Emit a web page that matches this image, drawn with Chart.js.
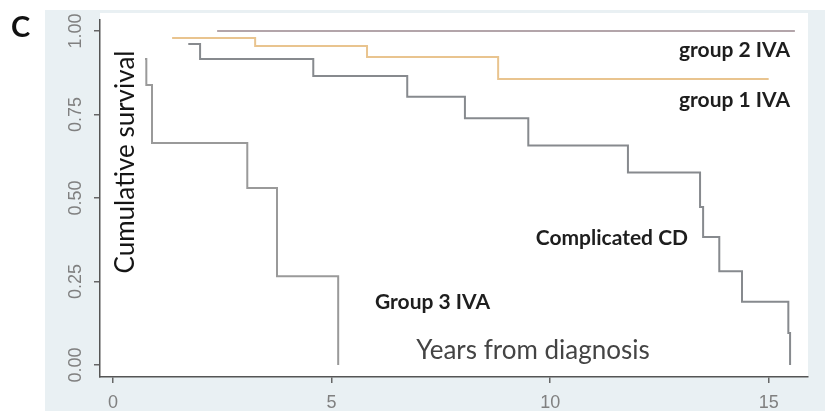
<!DOCTYPE html>
<html><head><meta charset="utf-8">
<script src="https://cdn.jsdelivr.net/npm/chart.js@4"></script>
<style>html,body{margin:0;padding:0;background:#fff;}canvas{display:block;}</style>
</head><body>
<canvas id="c" width="825" height="417"></canvas>
<script>
const xTicks = [0, 5, 10, 15];
const xTickLabels = ['0', '5', '10', '15'];
const yTicks = [0, 0.25, 0.5, 0.75, 1];
const yTickLabels = ['0.00', '0.25', '0.50', '0.75', '1.00'];

const g2Times = [2.38, 15.6];
const g2Surv  = [1.0, 1.0];
const g1Times = [1.35, 3.25, 5.81, 8.81, 15.0];
const g1Surv  = [0.979, 0.955, 0.922, 0.856, 0.856];
const cdTimes = [1.72, 1.99, 4.58, 6.73, 8.05, 9.50, 11.78, 13.43, 13.50, 13.87, 14.39, 15.45, 15.49];
const cdSurv  = [0.961, 0.916, 0.865, 0.803, 0.739, 0.657, 0.576, 0.473, 0.383, 0.281, 0.189, 0.096, 0.0];
const g3Times = [0.73, 0.76, 0.89, 3.07, 3.75, 5.15];
const g3Surv  = [0.916, 0.838, 0.665, 0.530, 0.266, 0.0];

const seriesNames = ['group 2 IVA', 'group 1 IVA', 'Complicated CD', 'Group 3 IVA'];

function pts(t, s) { return t.map((v, i) => ({x: v, y: s[i]})); }

const tickFont = '"Liberation Sans Narrow", "Liberation Sans", Arial, sans-serif';

const bgPlugin = {
  id: 'bg',
  beforeDraw(chart) {
    const ctx = chart.ctx, a = chart.chartArea;
    ctx.save();
    ctx.fillStyle = '#ffffff';
    ctx.fillRect(0, 0, chart.width, chart.height);
    ctx.fillStyle = '#e9f0f3';
    ctx.fillRect(45, 10, chart.width - 45, 401);
    ctx.fillStyle = '#ffffff';
    ctx.fillRect(a.left, 13, a.right - a.left, a.bottom - 13);
    ctx.restore();
  }
};

const textPlugin = {
  id: 'texts',
  afterDraw(chart) {
    const ctx = chart.ctx, ys = chart.scales.y;
    ctx.save();
    // y tick labels, rotated
    ctx.fillStyle = '#808080';
    ctx.font = '18px ' + tickFont;
    ctx.textAlign = 'center';
    ctx.textBaseline = 'middle';
    yTicks.forEach((v, i) => {
      ctx.save();
      ctx.translate(76, ys.getPixelForValue(v));
      ctx.rotate(-Math.PI / 2);
      ctx.fillText(yTickLabels[i], 0, 0);
      ctx.restore();
    });
    // panel letter
    ctx.fillStyle = '#111';
    ctx.font = 'bold 29px Lato, "Open Sans", sans-serif';
    ctx.textAlign = 'left';
    ctx.textBaseline = 'alphabetic';
    ctx.fillText('C', 11, 37);
    // y title
    ctx.save();
    ctx.translate(126, 162);
    ctx.rotate(-Math.PI / 2);
    ctx.font = '26px Lato, "Open Sans", sans-serif';
    ctx.textAlign = 'center';
    ctx.textBaseline = 'middle';
    ctx.fillStyle = '#151515';
    ctx.fillText('Cumulative survival', 0, 0);
    ctx.restore();
    // x title
    ctx.font = '26px Lato, "Open Sans", sans-serif';
    ctx.fillStyle = '#444';
    ctx.textAlign = 'center';
    ctx.textBaseline = 'middle';
    ctx.fillText('Years from diagnosis', 533, 351);
    // series labels
    ctx.font = 'bold 21px Lato, "Open Sans", sans-serif';
    ctx.fillStyle = '#1e1e1e';
    ctx.textAlign = 'right';
    ctx.fillText(seriesNames[0], 790, 50);
    ctx.fillText(seriesNames[1], 790, 100);
    ctx.fillText(seriesNames[2], 688, 238);
    ctx.fillText(seriesNames[3], 490, 302);
    ctx.restore();
  }
};

const common = { showLine: true, stepped: 'before', pointRadius: 0, borderWidth: 2, fill: false };

new Chart(document.getElementById('c'), {
  type: 'scatter',
  data: {
    datasets: [
      Object.assign({ label: seriesNames[0], data: pts(g2Times, g2Surv), borderColor: '#b3a5aa' }, common),
      Object.assign({ label: seriesNames[1], data: pts(g1Times, g1Surv), borderColor: '#e9c48f' }, common),
      Object.assign({ label: seriesNames[2], data: pts(cdTimes, cdSurv), borderColor: '#878a8e' }, common),
      Object.assign({ label: seriesNames[3], data: pts(g3Times, g3Surv), borderColor: '#9a9a9a' }, common)
    ]
  },
  options: {
    responsive: false,
    animation: false,
    devicePixelRatio: 1,
    layout: { padding: { left: 0, right: 17, top: 20, bottom: 0 } },
    plugins: { legend: { display: false }, tooltip: { enabled: false } },
    scales: {
      x: {
        type: 'linear', min: -0.3, max: 15.9,
        afterBuildTicks(s) { s.ticks = xTicks.map(v => ({ value: v })); },
        afterFit(s) { s.height = 40; },
        grid: { drawOnChartArea: false, drawTicks: true, tickLength: 6, color: '#666', lineWidth: 1.5 },
        border: { display: true, color: '#555', width: 1.5 },
        ticks: {
          padding: 9, color: '#808080', maxRotation: 0,
          font: { family: tickFont, size: 18 },
          callback(v) { const i = xTicks.indexOf(v); return i >= 0 ? xTickLabels[i] : ''; }
        }
      },
      y: {
        type: 'linear', min: -0.036, max: 1.033,
        afterBuildTicks(s) { s.ticks = yTicks.map(v => ({ value: v })); },
        afterFit(s) { s.width = 100; },
        grid: { drawOnChartArea: false, drawTicks: true, tickLength: 6, color: '#666', lineWidth: 1.5 },
        border: { display: true, color: '#555', width: 1.5 },
        ticks: { display: false }
      }
    }
  },
  plugins: [bgPlugin, textPlugin]
});
</script>
</body></html>
